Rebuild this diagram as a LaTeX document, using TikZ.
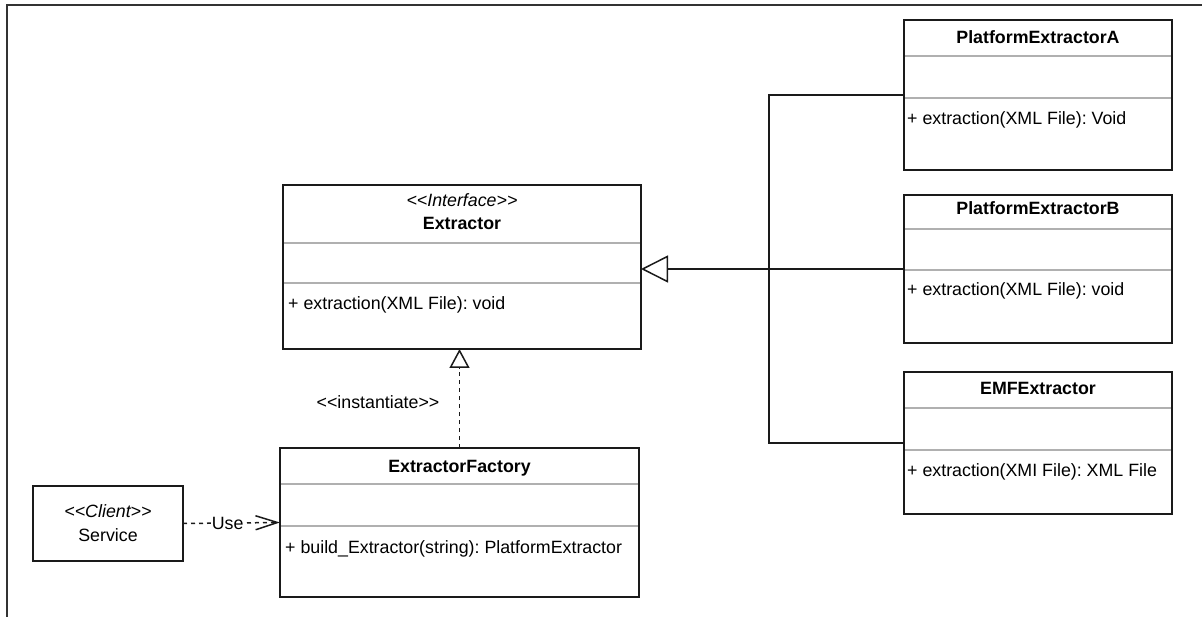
\documentclass[tikz,border=0pt]{standalone}
\usepackage{fontspec}
\setmainfont{Liberation Sans}
\usetikzlibrary{arrows.meta}
\frenchspacing
\definecolor{frame}{HTML}{333333}
\definecolor{edge}{HTML}{1A1A1A}
\definecolor{divider}{HTML}{B0B0B0}
\newcommand{\lguil}{<\kern0pt<}
\newcommand{\rguil}{>\kern0pt>}
\tikzset{
  umlbox/.style={draw=edge, line width=1.5pt, fill=white, inner sep=0pt, outer sep=0pt, anchor=north west},
  divline/.style={draw=divider, line width=1.5pt},
  conn/.style={draw=edge, line width=1.5pt},
  dashconn/.style={draw=edge, line width=1.5pt, dash pattern=on 4pt off 4pt},
  txt/.style={inner sep=0pt, anchor=base, font=\fontsize{17.8pt}{21pt}\selectfont},
  ttl/.style={txt, font=\fontsize{17.8pt}{21pt}\selectfont\bfseries},
  ster/.style={txt, font=\fontsize{17.8pt}{21pt}\selectfont\itshape},
  meth/.style={txt, anchor=base west},
}
\begin{document}
\begin{tikzpicture}[x=1pt,y=-1pt]
\useasboundingbox (0,0) rectangle (1202,617);
\fill[white] (0,0) rectangle (1202,617);
% frame
\draw[frame, line width=2pt] (7,617) -- (7,5) -- (1202,5);

% Extractor
\node[umlbox, minimum width=358pt, minimum height=164pt] (ext) at (283,185) {};
\draw[divline] (284,243) -- (640,243);
\draw[divline] (284,283) -- (640,283);
\node[ster] (extst) at (462,207) {\lguil Interface\rguil};
\node[ttl] (extt) at (462,229.5) {Extractor};
\node[meth] (extm) at (288,310) {+ extraction(XML File): void};

% PlatformExtractorA
\node[umlbox, minimum width=268pt, minimum height=150pt] (pea) at (904,20) {};
\draw[divline] (905,56) -- (1171,56);
\draw[divline] (905,98) -- (1171,98);
\node[ttl] (peat) at (1038,44) {PlatformExtractorA};
\node[meth] (peam) at (907,125) {+ extraction(XML File): Void};

% PlatformExtractorB
\node[umlbox, minimum width=268pt, minimum height=148pt] (peb) at (904,195) {};
\draw[divline] (905,229) -- (1171,229);
\draw[divline] (905,270) -- (1171,270);
\node[ttl] (pebt) at (1038,215) {PlatformExtractorB};
\node[meth] (pebm) at (907,296) {+ extraction(XML File): void};

% EMFExtractor
\node[umlbox, minimum width=268pt, minimum height=142pt] (emf) at (904,372) {};
\draw[divline] (905,408) -- (1171,408);
\draw[divline] (905,450) -- (1171,450);
\node[ttl] (emft) at (1038,395) {EMFExtractor};
\node[meth] (emfm) at (907,476) {+ extraction(XMI File): XML File};

% ExtractorFactory
\node[umlbox, minimum width=359pt, minimum height=149pt] (fac) at (280,448) {};
\draw[divline] (281,484) -- (638,484);
\draw[divline] (281,526) -- (638,526);
\node[ttl] (fact) at (459.5,472) {ExtractorFactory};
\node[meth] (facm) at (285,553) {+ build\_Extractor(string): PlatformExtractor};

% Service
\node[umlbox, minimum width=150pt, minimum height=75pt] (svc) at (33,486) {};
\node[ster] (svcst) at (108,517) {\lguil Client\rguil};
\node[txt] (svct) at (108,541) {Service};

% inheritance
\draw[conn, -{Triangle[open, length=27pt, width=27pt]}] (peb.west) -- (peb.west -| ext.east);
\draw[conn] (pea.west) -- ++(-135,0) |- (emf.west);

% instantiate
\draw[dashconn, -{Triangle[open, length=19pt, width=20pt]}] (fac.north) -- (fac.north |- ext.south);
\node[txt] (inst) at (378,408) {\lguil instantiate\rguil};

% use
\draw[dashconn, -{Straight Barb[length=22pt, width=14pt]}] (svc.east) -- node[txt, anchor=center, fill=white, inner sep=1pt, pos=0.46] (uselbl) {Use} (fac.west);
\end{tikzpicture}
\end{document}
